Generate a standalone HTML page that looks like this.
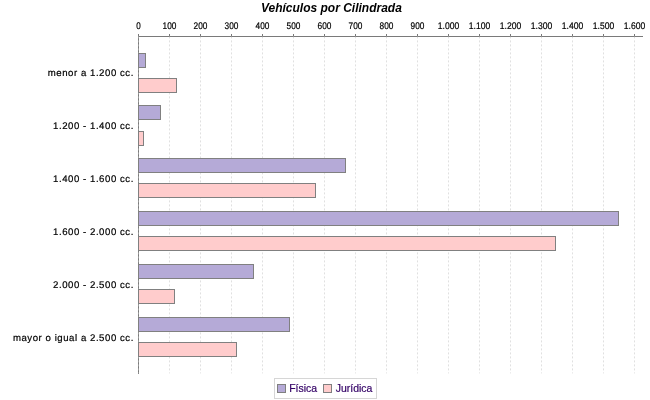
<!DOCTYPE html>
<html><head><meta charset="utf-8"><title>Vehículos por Cilindrada</title>
<style>
html,body{margin:0;padding:0;background:#fff;}
body{width:650px;height:400px;overflow:hidden;font-family:"Liberation Sans",sans-serif;}
svg{display:block;will-change:transform;}
text{font-family:"Liberation Sans",sans-serif;}
.tick{font-size:9.6px;fill:#000;stroke:#000;stroke-width:0.2px;}
.cat{font-size:9.6px;fill:#000;letter-spacing:0.55px;stroke:#000;stroke-width:0.2px;}
.grid{stroke:#c0c0c0;stroke-width:0.5;stroke-dasharray:2 2;}
.ax{stroke:#7a7a7a;stroke-width:1;}
.f{fill:#b5aad7;stroke:#808080;stroke-width:1;}
.j{fill:#ffcccc;stroke:#808080;stroke-width:1;}
</style></head><body>
<svg width="650" height="400" viewBox="0 0 650 400">
<rect width="650" height="400" fill="#fff"/>
<text x="331.4" y="11.5" text-anchor="middle" font-size="12" font-weight="bold" font-style="italic">Vehículos por Cilindrada</text>

<line class="ax" x1="138" y1="36.5" x2="643" y2="36.5"/>
<line class="ax" x1="138.5" y1="37" x2="138.5" y2="374"/>
<line class="grid" x1="138.5" y1="36.4" x2="138.5" y2="373.4"/>
<line class="ax" x1="138.5" y1="34" x2="138.5" y2="36"/>
<text class="tick" transform="translate(138.50,29) rotate(0.05) scale(0.843,1)" text-anchor="middle">0</text>
<line class="grid" x1="169.5" y1="36.4" x2="169.5" y2="373.4"/>
<line class="ax" x1="169.5" y1="34" x2="169.5" y2="36"/>
<text class="tick" transform="translate(169.50,29) rotate(0.05) scale(0.865,1)" text-anchor="middle">100</text>
<line class="grid" x1="200.5" y1="36.4" x2="200.5" y2="373.4"/>
<line class="ax" x1="200.5" y1="34" x2="200.5" y2="36"/>
<text class="tick" transform="translate(200.50,29) rotate(0.05) scale(0.865,1)" text-anchor="middle">200</text>
<line class="grid" x1="231.5" y1="36.4" x2="231.5" y2="373.4"/>
<line class="ax" x1="231.5" y1="34" x2="231.5" y2="36"/>
<text class="tick" transform="translate(231.50,29) rotate(0.05) scale(0.865,1)" text-anchor="middle">300</text>
<line class="grid" x1="262.5" y1="36.4" x2="262.5" y2="373.4"/>
<line class="ax" x1="262.5" y1="34" x2="262.5" y2="36"/>
<text class="tick" transform="translate(262.50,29) rotate(0.05) scale(0.865,1)" text-anchor="middle">400</text>
<line class="grid" x1="293.5" y1="36.4" x2="293.5" y2="373.4"/>
<line class="ax" x1="293.5" y1="34" x2="293.5" y2="36"/>
<text class="tick" transform="translate(293.50,29) rotate(0.05) scale(0.865,1)" text-anchor="middle">500</text>
<line class="grid" x1="324.5" y1="36.4" x2="324.5" y2="373.4"/>
<line class="ax" x1="324.5" y1="34" x2="324.5" y2="36"/>
<text class="tick" transform="translate(324.50,29) rotate(0.05) scale(0.865,1)" text-anchor="middle">600</text>
<line class="grid" x1="355.5" y1="36.4" x2="355.5" y2="373.4"/>
<line class="ax" x1="355.5" y1="34" x2="355.5" y2="36"/>
<text class="tick" transform="translate(355.50,29) rotate(0.05) scale(0.865,1)" text-anchor="middle">700</text>
<line class="grid" x1="386.5" y1="36.4" x2="386.5" y2="373.4"/>
<line class="ax" x1="386.5" y1="34" x2="386.5" y2="36"/>
<text class="tick" transform="translate(386.50,29) rotate(0.05) scale(0.865,1)" text-anchor="middle">800</text>
<line class="grid" x1="417.5" y1="36.4" x2="417.5" y2="373.4"/>
<line class="ax" x1="417.5" y1="34" x2="417.5" y2="36"/>
<text class="tick" transform="translate(417.50,29) rotate(0.05) scale(0.865,1)" text-anchor="middle">900</text>
<line class="grid" x1="448.5" y1="36.4" x2="448.5" y2="373.4"/>
<line class="ax" x1="448.5" y1="34" x2="448.5" y2="36"/>
<text class="tick" transform="translate(448.50,29) rotate(0.05) scale(0.895,1)" text-anchor="middle">1.000</text>
<line class="grid" x1="479.5" y1="36.4" x2="479.5" y2="373.4"/>
<line class="ax" x1="479.5" y1="34" x2="479.5" y2="36"/>
<text class="tick" transform="translate(479.50,29) rotate(0.05) scale(0.895,1)" text-anchor="middle">1.100</text>
<line class="grid" x1="510.5" y1="36.4" x2="510.5" y2="373.4"/>
<line class="ax" x1="510.5" y1="34" x2="510.5" y2="36"/>
<text class="tick" transform="translate(510.50,29) rotate(0.05) scale(0.895,1)" text-anchor="middle">1.200</text>
<line class="grid" x1="541.5" y1="36.4" x2="541.5" y2="373.4"/>
<line class="ax" x1="541.5" y1="34" x2="541.5" y2="36"/>
<text class="tick" transform="translate(541.50,29) rotate(0.05) scale(0.895,1)" text-anchor="middle">1.300</text>
<line class="grid" x1="572.5" y1="36.4" x2="572.5" y2="373.4"/>
<line class="ax" x1="572.5" y1="34" x2="572.5" y2="36"/>
<text class="tick" transform="translate(572.50,29) rotate(0.05) scale(0.895,1)" text-anchor="middle">1.400</text>
<line class="grid" x1="603.5" y1="36.4" x2="603.5" y2="373.4"/>
<line class="ax" x1="603.5" y1="34" x2="603.5" y2="36"/>
<text class="tick" transform="translate(603.50,29) rotate(0.05) scale(0.895,1)" text-anchor="middle">1.500</text>
<line class="grid" x1="634.5" y1="36.4" x2="634.5" y2="373.4"/>
<line class="ax" x1="634.5" y1="34" x2="634.5" y2="36"/>
<text class="tick" transform="translate(634.50,29) rotate(0.05) scale(0.895,1)" text-anchor="middle">1.600</text>
<rect class="f" x="138.5" y="53.5" width="7.0" height="14"/>
<rect class="j" x="138.5" y="78.5" width="38.0" height="14"/>
<text class="cat" transform="translate(133.9,76) rotate(0.05)" text-anchor="end">menor a 1.200 cc.</text>
<rect class="f" x="138.5" y="105.5" width="22.0" height="14"/>
<rect class="j" x="138.5" y="131.5" width="5.0" height="14"/>
<text class="cat" transform="translate(133.9,129) rotate(0.05)" text-anchor="end">1.200 - 1.400 cc.</text>
<rect class="f" x="138.5" y="158.5" width="207.0" height="14"/>
<rect class="j" x="138.5" y="183.5" width="177.0" height="14"/>
<text class="cat" transform="translate(133.9,182) rotate(0.05)" text-anchor="end">1.400 - 1.600 cc.</text>
<rect class="f" x="138.5" y="211.5" width="480.0" height="14"/>
<rect class="j" x="138.5" y="236.5" width="417.0" height="14"/>
<text class="cat" transform="translate(133.9,235) rotate(0.05)" text-anchor="end">1.600 - 2.000 cc.</text>
<rect class="f" x="138.5" y="264.5" width="115.0" height="14"/>
<rect class="j" x="138.5" y="289.5" width="36.0" height="14"/>
<text class="cat" transform="translate(133.9,288) rotate(0.05)" text-anchor="end">2.000 - 2.500 cc.</text>
<rect class="f" x="138.5" y="317.5" width="151.0" height="14"/>
<rect class="j" x="138.5" y="342.5" width="98.0" height="14"/>
<text class="cat" transform="translate(133.9,341) rotate(0.05)" text-anchor="end">mayor o igual a 2.500 cc.</text>
<rect x="274.5" y="378.5" width="102" height="20" fill="#fff" stroke="#d6d6d6"/>
<rect x="277.5" y="384.5" width="8" height="8" fill="#b5aad7" stroke="#808080"/>
<text x="289.2" y="391.6" font-size="10.5" fill="#330066" stroke="#330066" stroke-width="0.2" textLength="27.9" lengthAdjust="spacingAndGlyphs">Física</text>
<rect x="323.5" y="384.5" width="8" height="8" fill="#ffcccc" stroke="#808080"/>
<text x="335.8" y="391.6" font-size="10.5" fill="#330066" stroke="#330066" stroke-width="0.2" textLength="36.6" lengthAdjust="spacingAndGlyphs">Jurídica</text>

</svg></body></html>
